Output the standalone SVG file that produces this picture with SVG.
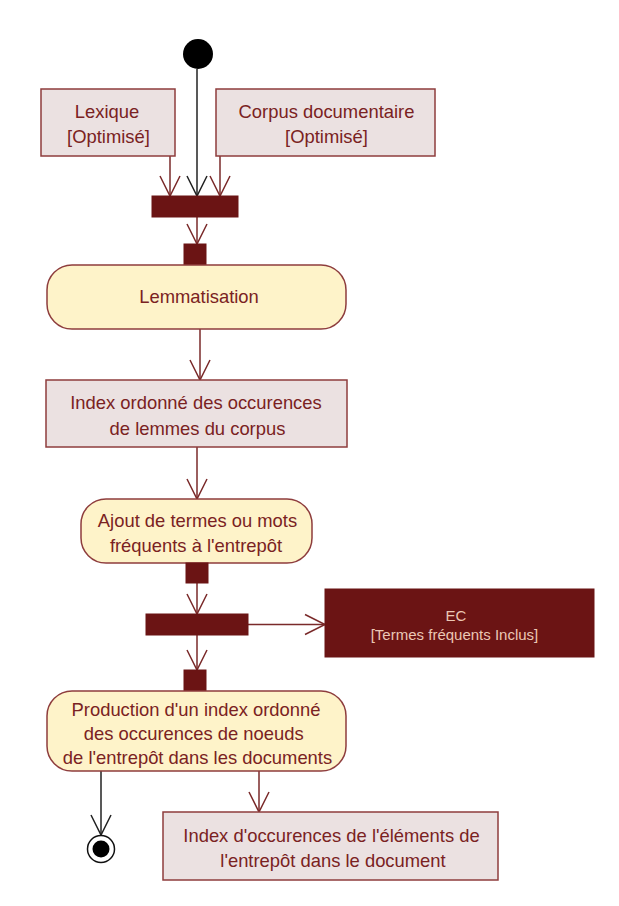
<svg xmlns="http://www.w3.org/2000/svg" width="619" height="906" viewBox="0 0 619 906">
<style>
.obj{fill:#ebe1e1;stroke:#8e3d3d;stroke-width:1.5}
.act{fill:#fef3c9;stroke:#8e3d3d;stroke-width:1.5}
.bar{fill:#6b1414;stroke:#6b1414;stroke-width:1}
.ec{fill:#6b1414;stroke:#6b1414;stroke-width:1}
.t{font-family:"Liberation Sans",Arial,sans-serif;font-size:18.4px;fill:#7a2222;text-anchor:middle}
.te{font-family:"Liberation Sans",Arial,sans-serif;font-size:15px;fill:#ebc7b5;text-anchor:middle}
.c{fill:none;stroke:#7a2a2a;stroke-width:1.5}
.k{fill:none;stroke:#222;stroke-width:1.5}
</style>
<defs>
<marker id="ar" markerUnits="userSpaceOnUse" markerWidth="24" markerHeight="24" viewBox="-22 -11 24 22" refX="0" refY="0" orient="auto">
<path d="M-20,-10 L0,0 L-20,10" fill="none" stroke="#7a2a2a" stroke-width="1.5"/>
</marker>
<marker id="ak" markerUnits="userSpaceOnUse" markerWidth="24" markerHeight="24" viewBox="-22 -11 24 22" refX="0" refY="0" orient="auto">
<path d="M-20,-10 L0,0 L-20,10" fill="none" stroke="#222" stroke-width="1.5"/>
</marker>
</defs>
<g id="connectors">
<line class="k" x1="197" y1="69" x2="197" y2="196" marker-end="url(#ak)"/>
<line class="c" x1="170" y1="156" x2="170" y2="196" marker-end="url(#ar)"/>
<line class="c" x1="220" y1="156" x2="220" y2="196" marker-end="url(#ar)"/>
<line class="c" x1="197" y1="217" x2="197" y2="244" marker-end="url(#ar)"/>
<line class="c" x1="200" y1="329" x2="200" y2="380" marker-end="url(#ar)"/>
<line class="c" x1="197" y1="447" x2="197" y2="499" marker-end="url(#ar)"/>
<line class="c" x1="197" y1="583" x2="197" y2="614" marker-end="url(#ar)"/>
<line class="c" x1="248" y1="624.5" x2="325" y2="624.5" marker-end="url(#ar)"/>
<line class="c" x1="197" y1="635" x2="197" y2="670" marker-end="url(#ar)"/>
<line class="k" x1="101" y1="771" x2="101" y2="835" marker-end="url(#ak)"/>
<line class="c" x1="259" y1="771" x2="259" y2="812" marker-end="url(#ar)"/>
</g>
<g id="start"><circle cx="198" cy="54" r="15" fill="#000"/></g>
<g id="lexique">
<rect class="obj" x="41" y="89" width="134" height="67"/>
<text class="t" x="107" y="118">Lexique</text>
<text class="t" x="108.5" y="143">[Optimisé]</text>
</g>
<g id="corpus">
<rect class="obj" x="216" y="89" width="219" height="67"/>
<text class="t" x="326.5" y="118">Corpus documentaire</text>
<text class="t" x="326.5" y="143">[Optimisé]</text>
</g>
<g id="fork1"><rect class="bar" x="152" y="196" width="86" height="21"/></g>
<g id="pin1"><rect class="bar" x="184" y="244" width="22" height="21"/></g>
<g id="lemmatisation">
<rect class="act" x="47" y="265" width="299" height="64" rx="25" ry="25"/>
<text class="t" x="199" y="303">Lemmatisation</text>
</g>
<g id="index1">
<rect class="obj" x="46" y="380" width="301" height="67"/>
<text class="t" x="196" y="409">Index ordonné des occurences</text>
<text class="t" x="197.5" y="435">de lemmes du corpus</text>
</g>
<g id="ajout">
<rect class="act" x="81" y="499" width="231" height="64" rx="25" ry="25"/>
<text class="t" x="197.5" y="527">Ajout de termes ou mots</text>
<text class="t" x="196" y="552">fréquents à l'entrepôt</text>
</g>
<g id="pin2"><rect class="bar" x="186" y="563" width="22" height="20"/></g>
<g id="fork2"><rect class="bar" x="146" y="614" width="102" height="21"/></g>
<g id="ec">
<rect class="ec" x="325" y="589" width="269" height="68"/>
<text class="te" x="456" y="620.5">EC</text>
<text class="te" x="454.5" y="640">[Termes fréquents Inclus]</text>
</g>
<g id="pin3"><rect class="bar" x="184" y="670" width="22" height="21"/></g>
<g id="production">
<rect class="act" x="47" y="691" width="299" height="80" rx="25" ry="25"/>
<text class="t" x="196" y="715.5">Production d'un index ordonné</text>
<text class="t" x="193.7" y="739.5">des occurences de noeuds</text>
<text class="t" x="197.5" y="763.5">de l'entrepôt dans les documents</text>
</g>
<g id="end">
<circle cx="101" cy="849" r="13.5" fill="#fff" stroke="#111" stroke-width="1.5"/>
<circle cx="101" cy="849" r="8.5" fill="#000"/>
</g>
<g id="index2">
<rect class="obj" x="163" y="812" width="335" height="68"/>
<text class="t" x="331.5" y="842">Index d'occurences de l'éléments de</text>
<text class="t" x="333" y="866.5">l'entrepôt dans le document</text>
</g>
</svg>
